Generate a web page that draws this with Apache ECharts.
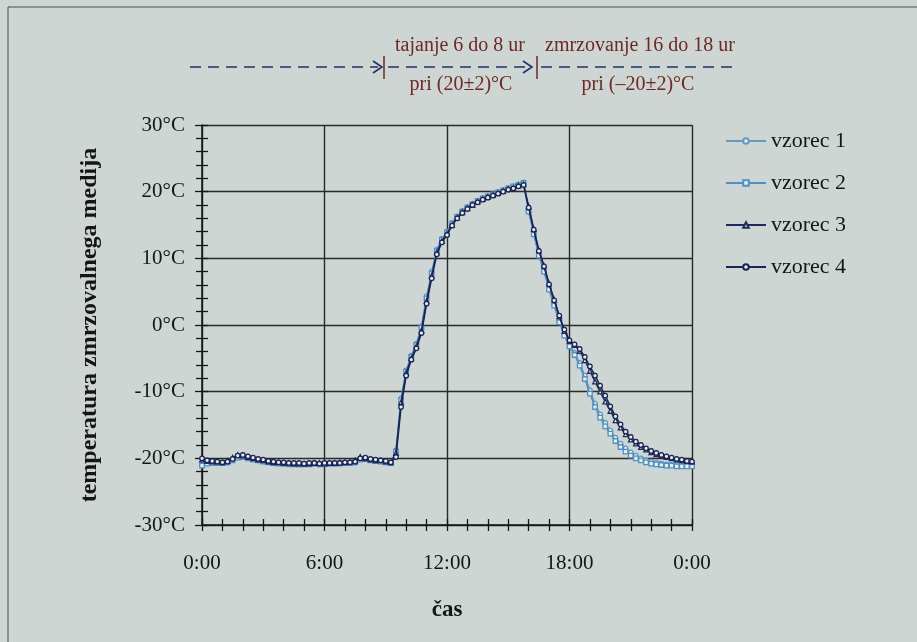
<!DOCTYPE html>
<html>
<head>
<meta charset="utf-8">
<script src="https://cdn.jsdelivr.net/npm/echarts@6/dist/echarts.min.js"></script>
<style>
  html, body { margin: 0; padding: 0; background: #ced6d3; }
  #chart { width: 917px; height: 642px; }
</style>
</head>
<body>
<div id="chart"></div>
<script>
// time of each reading, hours from start
const hours = [
  0, 0.25, 0.5, 0.75, 1, 1.25, 1.5, 1.75, 2, 2.25, 2.5, 2.75,
  3, 3.25, 3.5, 3.75, 4, 4.25, 4.5, 4.75, 5, 5.25, 5.5, 5.75,
  6, 6.25, 6.5, 6.75, 7, 7.25, 7.5, 7.75, 8, 8.25, 8.5, 8.75,
  9, 9.25, 9.5, 9.75, 10, 10.25, 10.5, 10.75, 11, 11.25, 11.5, 11.75,
  12, 12.25, 12.5, 12.75, 13, 13.25, 13.5, 13.75, 14, 14.25, 14.5, 14.75,
  15, 15.25, 15.5, 15.75, 16, 16.25, 16.5, 16.75, 17, 17.25, 17.5, 17.75,
  18, 18.25, 18.5, 18.75, 19, 19.25, 19.5, 19.75, 20, 20.25, 20.5, 20.75,
  21, 21.25, 21.5, 21.75, 22, 22.25, 22.5, 22.75, 23, 23.25, 23.5, 23.75, 24
];

const vzorec1 = [
  -20.9, -20.7, -20.6, -20.6, -20.7, -20.6, -20.2, -19.8, -19.7, -19.9, -20.1, -20.3,
  -20.4, -20.5, -20.7, -20.7, -20.8, -20.8, -20.8, -20.9, -20.9, -20.8, -20.8, -20.9,
  -20.8, -20.8, -20.8, -20.7, -20.7, -20.7, -20.6, -20.1, -20.0, -20.2, -20.3, -20.4,
  -20.5, -20.7, -18.8, -11.0, -6.8, -4.6, -2.8, -0.2, 4.3, 8.0, 11.3, 12.9,
  14.0, 15.3, 16.3, 17.1, 17.7, 18.2, 18.6, 19.0, 19.3, 19.6, 19.9, 20.2,
  20.5, 20.8, 21.1, 21.4, 17.2, 13.8, 10.6, 8.2, 5.5, 3.1, 0.6, -1.4,
  -3.0, -4.2, -5.7, -7.6, -9.8, -11.8, -13.4, -14.7, -15.8, -16.9, -17.8, -18.5,
  -19.1, -19.6, -20.0, -20.3, -20.5, -20.7, -20.8, -20.9, -21.0, -21.0, -21.1, -21.1, -21.1
];

const vzorec2 = [
  -21.1, -20.8, -20.7, -20.7, -20.7, -20.6, -20.3, -19.9, -19.8, -20.0, -20.2, -20.3,
  -20.5, -20.6, -20.7, -20.8, -20.8, -20.9, -20.9, -20.9, -20.9, -20.9, -20.8, -20.9,
  -20.9, -20.8, -20.8, -20.8, -20.7, -20.7, -20.6, -20.2, -20.1, -20.3, -20.4, -20.5,
  -20.6, -20.7, -19.0, -11.3, -7.0, -4.8, -3.0, -0.4, 4.0, 7.7, 11.1, 12.8,
  13.9, 15.2, 16.2, 17.0, 17.6, 18.1, 18.6, 19.0, 19.3, 19.6, 19.9, 20.2,
  20.5, 20.8, 21.0, 21.3, 17.0, 13.6, 10.4, 8.0, 5.3, 2.9, 0.4, -1.6,
  -3.2, -4.5, -6.1, -8.1, -10.3, -12.3, -13.9, -15.2, -16.3, -17.4, -18.3, -19.0,
  -19.6, -20.0, -20.3, -20.6, -20.8, -20.9, -21.0, -21.1, -21.1, -21.2, -21.2, -21.2, -21.2
];

const vzorec3 = [
  -20.2, -20.4, -20.5, -20.5, -20.6, -20.4, -19.9, -19.5, -19.6, -19.8, -20.0, -20.2,
  -20.3, -20.5, -20.6, -20.6, -20.7, -20.7, -20.8, -20.8, -20.8, -20.8, -20.7, -20.7,
  -20.8, -20.7, -20.7, -20.6, -20.6, -20.5, -20.3, -19.8, -20.0, -20.2, -20.3, -20.3,
  -20.5, -20.6, -19.2, -11.6, -7.2, -5.0, -3.2, -0.8, 3.6, 7.4, 10.9, 12.6,
  13.7, 15.0, 16.1, 16.9, 17.5, 18.0, 18.5, 18.9, 19.2, 19.5, 19.8, 20.1,
  20.4, 20.6, 20.9, 21.1, 17.8, 14.4, 11.2, 8.9, 6.2, 3.8, 1.3, -0.9,
  -2.4, -3.0, -3.9, -5.3, -6.9, -8.5, -10.0, -11.5, -12.9, -14.3, -15.4, -16.4,
  -17.2, -17.8, -18.3, -18.7, -19.1, -19.4, -19.6, -19.8, -20.0, -20.2, -20.3, -20.4, -20.5
];

const vzorec4 = [
  -20.0, -20.3, -20.4, -20.5, -20.6, -20.5, -20.1, -19.6, -19.5, -19.7, -19.9, -20.1,
  -20.2, -20.4, -20.5, -20.6, -20.6, -20.7, -20.7, -20.7, -20.8, -20.7, -20.7, -20.8,
  -20.7, -20.7, -20.7, -20.7, -20.6, -20.6, -20.5, -20.0, -19.9, -20.1, -20.2, -20.3,
  -20.4, -20.6, -19.8, -12.3, -7.6, -5.2, -3.5, -1.2, 3.2, 7.0, 10.6, 12.4,
  13.5, 14.9, 16.0, 16.8, 17.4, 18.0, 18.4, 18.8, 19.1, 19.4, 19.7, 20.0,
  20.3, 20.5, 20.8, 21.0, 17.6, 14.3, 11.1, 8.8, 6.1, 3.7, 1.4, -0.7,
  -2.3, -2.9, -3.6, -4.8, -6.2, -7.6, -9.1, -10.6, -12.2, -13.7, -14.9, -16.0,
  -16.8, -17.5, -18.0, -18.5, -18.9, -19.2, -19.5, -19.7, -19.9, -20.1, -20.2, -20.4, -20.5
];

const seriesNames = ['vzorec 1', 'vzorec 2', 'vzorec 3', 'vzorec 4'];
const seriesColors = ['#5f9cc4', '#4f8fc4', '#1f2b5e', '#1b2356'];
const seriesSymbols = ['circle', 'rect', 'triangle', 'circle'];

const serif = '"Liberation Serif", "DejaVu Serif", serif';
const ink = '#151515';
const noteRed = '#6e2626';
const dashBlue = '#24306a';

const chart = echarts.init(document.getElementById('chart'));

const makeSeries = (vals, i) => ({
  name: seriesNames[i],
  type: 'line',
  xAxisIndex: 0,
  yAxisIndex: 0,
  data: hours.map((h, k) => [h, vals[k]]),
  symbol: seriesSymbols[i],
  symbolSize: 4.5,
  showSymbol: true,
  lineStyle: { color: seriesColors[i], width: 1.5 },
  itemStyle: { color: '#e8eeee', borderColor: seriesColors[i], borderWidth: 1.3 },
  z: 3 + i
});

chart.setOption({
  backgroundColor: '#ced6d3',
  animation: false,
  grid: { left: 202, right: 225, top: 125, bottom: 117 },
  legend: {
    orient: 'vertical',
    left: 725,
    top: 130,
    padding: 0,
    itemWidth: 40,
    itemHeight: 7,
    itemGap: 20,
    data: seriesNames,
    textStyle: { fontFamily: serif, fontSize: 22, color: ink, lineHeight: 20 }
  },
  xAxis: [
    {
      type: 'value', min: 0, max: 24, interval: 6,
      name: 'čas', nameLocation: 'middle', nameGap: 74,
      nameTextStyle: { fontFamily: serif, fontSize: 23, fontWeight: 'bold', color: ink },
      axisLine: { onZero: false, lineStyle: { color: ink, width: 1.5 } },
      axisTick: { length: 6, lineStyle: { color: ink, width: 1.3 } },
      minorTick: { show: true, splitNumber: 6, length: 6, lineStyle: { color: ink, width: 1.3 } },
      axisLabel: {
        fontFamily: serif, fontSize: 21, color: ink, margin: 28,
        formatter: v => (v % 24) + ':00'
      },
      splitLine: { lineStyle: { color: '#2a2a2a', width: 1.4 } }
    },
    {
      type: 'value', min: 0, max: 24, interval: 1, position: 'bottom',
      axisLine: { show: false, onZero: false },
      axisTick: { inside: true, length: 6, lineStyle: { color: ink, width: 1.3 } },
      axisLabel: { show: false },
      splitLine: { show: false }
    }
  ],
  yAxis: [
    {
      type: 'value', min: -30, max: 30, interval: 10,
      name: 'temperatura zmrzovalnega medija', nameLocation: 'middle', nameGap: 100,
      nameTextStyle: { fontFamily: serif, fontSize: 24, fontWeight: 'bold', color: ink },
      axisLine: { show: true, onZero: false, lineStyle: { color: ink, width: 1.5 } },
      axisTick: { show: true, length: 7, lineStyle: { color: ink, width: 1.3 } },
      minorTick: { show: true, splitNumber: 5, length: 6, lineStyle: { color: ink, width: 1.3 } },
      axisLabel: {
        fontFamily: serif, fontSize: 21, color: ink, margin: 17,
        formatter: v => v + '°C'
      },
      splitLine: { lineStyle: { color: '#2a2a2a', width: 1.4 } }
    },
    {
      type: 'value', min: -30, max: 30, interval: 2, position: 'left',
      axisLine: { show: false, onZero: false },
      axisTick: { show: true, inside: true, length: 6, lineStyle: { color: ink, width: 1.3 } },
      axisLabel: { show: false },
      splitLine: { show: false }
    }
  ],
  graphic: [
    // frame of the figure
    { type: 'rect', shape: { x: 8, y: 7, width: 1000, height: 700 }, style: { fill: 'none', stroke: '#4a4a4a', lineWidth: 1 }, silent: true },
    // phase arrows
    { type: 'line', shape: { x1: 190, y1: 67, x2: 378, y2: 67 }, style: { stroke: dashBlue, lineWidth: 1.6, lineDash: [11, 7] } },
    { type: 'polyline', shape: { points: [[373, 61], [382, 67], [373, 73]] }, style: { stroke: dashBlue, lineWidth: 1.6, fill: 'none' } },
    { type: 'line', shape: { x1: 384, y1: 56, x2: 384, y2: 79 }, style: { stroke: noteRed, lineWidth: 1.5 } },
    { type: 'line', shape: { x1: 388, y1: 67, x2: 527, y2: 67 }, style: { stroke: dashBlue, lineWidth: 1.6, lineDash: [11, 7] } },
    { type: 'polyline', shape: { points: [[523, 61], [532, 67], [523, 73]] }, style: { stroke: dashBlue, lineWidth: 1.6, fill: 'none' } },
    { type: 'line', shape: { x1: 537, y1: 56, x2: 537, y2: 79 }, style: { stroke: noteRed, lineWidth: 1.5 } },
    { type: 'line', shape: { x1: 541, y1: 67, x2: 736, y2: 67 }, style: { stroke: dashBlue, lineWidth: 1.6, lineDash: [11, 7] } },
    { type: 'text', x: 460, y: 46, style: { text: 'tajanje 6 do 8 ur', font: '20px ' + serif, fill: noteRed, align: 'center', verticalAlign: 'middle' } },
    { type: 'text', x: 640, y: 46, style: { text: 'zmrzovanje 16 do 18 ur', font: '20px ' + serif, fill: noteRed, align: 'center', verticalAlign: 'middle' } },
    { type: 'text', x: 461, y: 85, style: { text: 'pri (20±2)°C', font: '20px ' + serif, fill: noteRed, align: 'center', verticalAlign: 'middle' } },
    { type: 'text', x: 638, y: 85, style: { text: 'pri (–20±2)°C', font: '20px ' + serif, fill: noteRed, align: 'center', verticalAlign: 'middle' } }
  ],
  series: [vzorec1, vzorec2, vzorec3, vzorec4].map(makeSeries)
});
</script>
</body>
</html>
